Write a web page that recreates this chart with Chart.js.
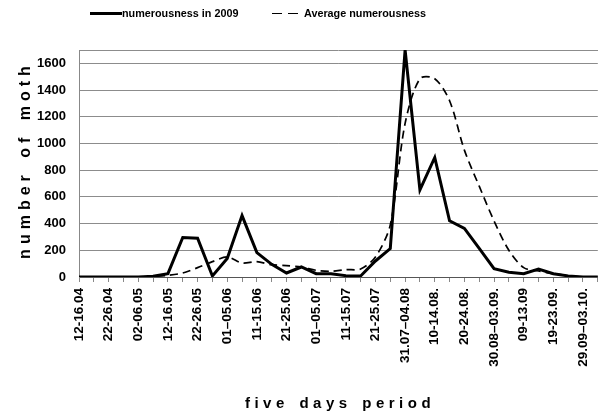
<!DOCTYPE html>
<html>
<head>
<meta charset="utf-8">
<script src="https://cdn.jsdelivr.net/npm/chart.js@4/dist/chart.umd.min.js"></script>
<style>
    body { margin: 0; background: #fff; overflow: hidden; }
    .frame { position: relative; width: 600px; height: 417px; overflow: hidden; font-family: "Liberation Sans", Arial, sans-serif; }
    .chart-box { position: absolute; left: 0; top: 0; width: 620px; height: 417px; }
    .legend { position: absolute; top: 6px; font-size: 10.8px; font-weight: bold; color: #000; white-space: nowrap; }
    .legend .line { display: inline-block; vertical-align: middle; height: 0; border-top: 3px solid #000; }
    .legend .dash { display: inline-block; vertical-align: middle; width: 10px; height: 0; border-top: 1.5px solid #000; }
    .legend span.txt { vertical-align: middle; }
    .y-title { position: absolute; left: -105px; top: 150px; width: 260px; height: 20px; line-height: 20px; text-align: center;
        font-size: 16px; font-weight: bold; letter-spacing: 5px; word-spacing: 3px; transform: rotate(-90deg); }
    .x-title { position: absolute; left: 140px; top: 394px; width: 400px; text-align: center;
        font-size: 15px; font-weight: bold; letter-spacing: 4.5px; word-spacing: 2px; }
</style>
</head>
<body>
<div class="frame">
    <div class="chart-box"><canvas id="mothChart"></canvas></div>
    <div class="legend" style="left:90px"><span class="line" style="width:32px"></span><span class="txt">numerousness in 2009</span></div>
    <div class="legend" style="left:272px"><span class="dash"></span><span class="dash" style="margin-left:6px"></span><span class="txt" style="margin-left:6px">Average numerousness</span></div>
    <div class="y-title">number of moth</div>
    <div class="x-title">five days period</div>
</div>
<script>
const periods = [
    '12-16.04', '17-21.04', '22-26.04', '27.04-01.05', '02-06.05', '07-11.05',
    '12-16.05', '17-21.05', '22-26.05', '27-31.05', '01–05.06', '06-10.06',
    '11-15.06', '16-20.06', '21-25.06', '26-30.06', '01–05.07', '06-10.07',
    '11-15.07', '16-20.07', '21-25.07', '26-30.07', '31.07–04.08', '05-09.08',
    '10-14.08.', '15-19.08.', '20-24.08.', '25-29.08.', '30.08–03.09.', '04-08.09.',
    '09-13.09', '14-18.09.', '19-23.09.', '24-28.09.', '29.09–03.10.', '04-08.10.'
];
const moths2009 = [
    0, 0, 0, 0, 0, 5, 25, 296, 290, 8, 138, 460,
    183, 95, 30, 75, 25, 25, 10, 8, 120, 213, 1700, 652,
    895, 421, 364, 215, 63, 35, 25, 60, 25, 8, 0, 0
];
const mothsAverage = [
    0, 0, 0, 0, 0, 5, 13, 30, 70, 115, 150, 105,
    115, 92, 85, 75, 50, 43, 55, 60, 150, 390, 1150, 1485,
    1485, 1320, 950, 680, 420, 200, 70, 45, 25, 10, 0, 0
];
const yMax = 1700;
const yStep = 200;

const font = 'Liberation Sans, Arial, sans-serif';

new Chart(document.getElementById('mothChart'), {
    type: 'line',
    data: {
        labels: periods,
        datasets: [{
            label: 'numerousness in 2009',
            data: moths2009,
            borderColor: '#000',
            borderWidth: 3,
            pointRadius: 0,
            tension: 0,
            fill: false
        }, {
            label: 'Average numerousness',
            data: mothsAverage,
            borderColor: '#000',
            borderWidth: 1.7,
            borderDash: [8, 5],
            pointRadius: 0,
            tension: 0.3,
            fill: false
        }]
    },
    options: {
        responsive: true,
        maintainAspectRatio: false,
        animation: false,
        layout: {
            padding: { top: 50, right: 16, bottom: 0, left: 0 }
        },
        plugins: {
            legend: { display: false },
            tooltip: { enabled: false }
        },
        scales: {
            x: {
                offset: false,
                afterFit: function(scale) { scale.height = 140; },
                grid: {
                    drawOnChartArea: false,
                    drawTicks: true,
                    tickLength: 5,
                    color: '#888'
                },
                border: { color: '#555', width: 1 },
                ticks: {
                    autoSkip: false,
                    maxRotation: 90,
                    minRotation: 90,
                    padding: 6,
                    color: '#000',
                    font: { family: font, size: 13.5, weight: 'bold' },
                    callback: function(value, index) {
                        return index % 2 === 0 ? periods[index] : '';
                    }
                }
            },
            // top frame line of the plot area
            xTop: {
                position: 'top',
                offset: false,
                afterFit: function(scale) { scale.height = 0; },
                grid: { display: false, drawTicks: false },
                border: { display: true, color: '#8c8c8c', width: 1 },
                ticks: { display: false }
            },
            y: {
                min: 0,
                max: yMax,
                afterFit: function(scale) { scale.width = 79; },
                grid: {
                    drawTicks: false,
                    color: '#8c8c8c',
                    lineWidth: 1
                },
                border: { color: '#888', width: 1 },
                ticks: {
                    stepSize: yStep,
                    includeBounds: false,
                    padding: 13,
                    color: '#000',
                    font: { family: font, size: 13, weight: 'bold' },
                    callback: function(value) { return String(value); }
                }
            }
        }
    }
});
</script>
</body>
</html>
